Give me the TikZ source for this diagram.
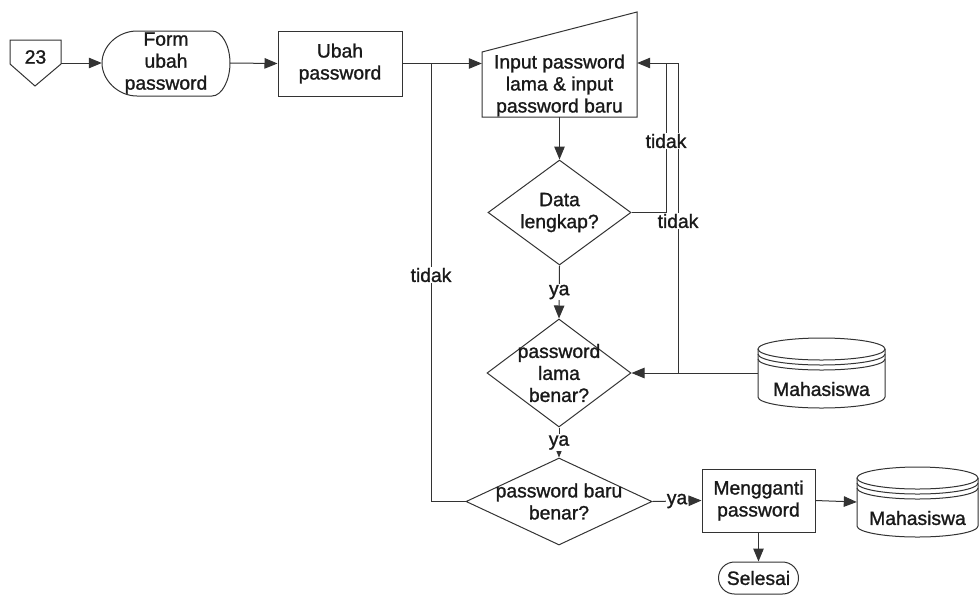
\documentclass[tikz,border=0pt]{standalone}
\usepackage{fontspec}
\setmainfont{Liberation Sans}[FakeBold=1.2]
\usetikzlibrary{arrows.meta,shapes.geometric,calc}
\newcommand\fsz{\fontsize{19.3}{22}\selectfont}
\tikzset{
  ln/.style={line width=1pt, draw=black!80},
  txt/.style={font=\fsz, align=center, inner sep=0pt, text=black!90},
  box/.style={txt, ln, rectangle},
  dia/.style={ln, diamond, inner sep=0pt},
  arr/.style={ln, -{Triangle[length=13pt,width=10.5pt]}},
  lbl/.style={font=\fsz, fill=white, inner sep=1pt, text=black!90},
  hid/.style={txt, draw=none, rectangle}
}
\begin{document}
\begin{tikzpicture}[x=1pt,y=-1pt]
\useasboundingbox (0,0) rectangle (979,595);
% off-page connector
\node[hid, minimum width=51pt, minimum height=46pt] (off) at (35.5,57) {23};
\draw[ln] (10,40) -- (61,40) -- (61,64) -- (35,86) -- (10,64) -- cycle;
% display form
\node[hid, minimum width=128pt, minimum height=65pt] (form) at (166,63) {Form\\ubah\\password};
\draw[ln] (137,31) -- (212,31) .. controls (222,31) and (230,46) .. (230,63)
  .. controls (230,80) and (222,96) .. (212,96) -- (137,96)
  .. controls (118,96) and (102,80) .. (102,63)
  .. controls (102,46) and (118,31) .. (137,31);
% process
\node[box, minimum width=124pt, minimum height=65pt] (ubah) at (340,63.5) {Ubah\\password};
% manual input
\node[hid, minimum width=155pt, minimum height=63pt] (inp) at (559.5,85.5) {Input password\\lama \& input\\password baru};
\draw[ln] (482,52) -- (637,12) -- (637,117) -- (482,117) -- cycle;
% decisions
\node[dia, minimum width=143pt, minimum height=105pt,
  label={[txt, align=center]center:Data\\lengkap?}] (d1) at (559.5,212.5) {};
\node[dia, minimum width=144pt, minimum height=108pt,
  label={[txt, align=center]center:password\\lama\\benar?}] (d2) at (559,373) {};
\node[dia, minimum width=186pt, minimum height=87pt,
  label={[txt, align=center]center:password baru\\benar?}] (d3) at (559,501.5) {};
% data stores
\node[hid, minimum width=127pt, minimum height=70pt,
  label={[txt, yshift=-16pt]center:Mahasiswa}] (m1) at (821.5,373) {};
\draw[ln] (821.5,349) ellipse [x radius=63.5pt, y radius=11pt];
\draw[ln] (758,354) arc [start angle=180, end angle=360, x radius=63.5pt, y radius=11pt];
\draw[ln] (758,359) arc [start angle=180, end angle=360, x radius=63.5pt, y radius=11pt];
\draw[ln] (758,349) -- (758,397) arc [start angle=180, end angle=360, x radius=63.5pt, y radius=11pt] -- (885,349);
\node[hid, minimum width=121pt, minimum height=70pt,
  label={[txt, yshift=-16pt]center:Mahasiswa}] (m2) at (917.5,502) {};
\draw[ln] (917.5,478) ellipse [x radius=60.5pt, y radius=11pt];
\draw[ln] (857,483) arc [start angle=180, end angle=360, x radius=60.5pt, y radius=11pt];
\draw[ln] (857,488) arc [start angle=180, end angle=360, x radius=60.5pt, y radius=11pt];
\draw[ln] (857,478) -- (857,526) arc [start angle=180, end angle=360, x radius=60.5pt, y radius=11pt] -- (978,478);
% process 2 and terminator
\node[box, minimum width=113pt, minimum height=63pt] (mg) at (758.5,500.5) {Mengganti\\password};
\node[box, rounded corners=16pt, minimum width=80pt, minimum height=32pt] (sel) at (758.5,578) {Selesai};
% coordinates
\coordinate (j1) at (431,63.5);
\coordinate (j2) at (666,63);
\coordinate (j3) at (678,63);
\coordinate (j4) at (678,373);
% connectors
\draw[arr] (off.east |- form.west) -- (form.west);
\draw[arr] (form.east) -- (ubah.west);
\draw[arr] (ubah.east) -- (ubah.east -| inp.west);
\draw[arr] (inp.south) -- (d1.north);
\draw[arr] (d1.south) -- node[lbl, pos=0.5] {ya} (d2.north);
\draw[arr] (d2.south) -- node[lbl, pos=0.5] {ya} (d3.north);
\draw[arr] (d1.east) -| (j2) -- (j2 -| inp.east);
\draw[ln] (j4) -- (j3) -- (j2);
\draw[arr] (m1.west) -- (d2.east);
\draw[ln] (d3.west) -| (j1);
\draw[arr] (d3.east) -- node[lbl, pos=0.5] {ya} (mg.west);
\draw[arr] (mg.east) -- (m2.west);
\draw[arr] (mg.south) -- (sel.north);
% labels on lines
\node[lbl] (t1) at (666,141) {tidak};
\node[lbl] (t2) at (678,221) {tidak};
\node[lbl] (t3) at (431,275) {tidak};
\end{tikzpicture}
\end{document}
